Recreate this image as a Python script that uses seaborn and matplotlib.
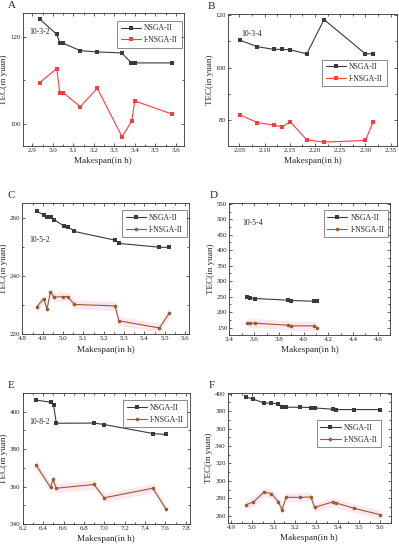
import numpy as np
import pandas as pd
import matplotlib
matplotlib.use("Agg")
import matplotlib.pyplot as plt
import seaborn as sns
from matplotlib.ticker import MultipleLocator, FormatStrFormatter

sns.set_style("ticks")
plt.rcParams['font.family'] = ['Liberation Serif', 'DejaVu Serif']

# ---------------- data ----------------
a_x_nsga = [2.937, 3.019, 3.035, 3.050, 3.134, 3.217, 3.336, 3.383, 3.400, 3.582]
a_y_nsga = [124.0, 120.5, 118.5, 118.5, 116.8, 116.5, 116.3, 114.0, 114.0, 114.0]
a_x_insga = [2.936, 3.019, 3.034, 3.050, 3.134, 3.217, 3.338, 3.385, 3.400, 3.582]
a_y_insga = [109.5, 112.7, 107.2, 107.2, 104.0, 108.2, 97.1, 100.7, 105.3, 102.3]

b_x_nsga = [2.052, 2.086, 2.118, 2.135, 2.151, 2.184, 2.218, 2.300, 2.316]
b_y_nsga = [110.3, 107.9, 106.9, 106.9, 106.7, 105.2, 118.2, 105.2, 105.2]
b_x_insga = [2.052, 2.086, 2.118, 2.135, 2.151, 2.184, 2.218, 2.300, 2.316]
b_y_insga = [81.9, 79.1, 78.1, 77.5, 79.4, 72.5, 71.7, 72.3, 79.5]

c_x_nsga = [4.870, 4.907, 4.923, 4.943, 4.956, 5.005, 5.026, 5.056, 5.256, 5.274, 5.472, 5.523]
c_y_nsga = [262.4, 261.0, 260.3, 260.3, 259.4, 257.3, 257.0, 255.4, 252.4, 251.3, 250.0, 249.9]
c_x_insga = [4.870, 4.905, 4.921, 4.938, 4.956, 5.002, 5.023, 5.056, 5.256, 5.274, 5.474, 5.523]
c_y_insga = [229.4, 232.3, 228.7, 234.6, 232.8, 233.0, 233.0, 230.3, 229.8, 224.7, 222.2, 227.4]

d_x_nsga = [3.544, 3.563, 3.610, 3.877, 3.896, 4.085, 4.104]
d_y_nsga = [250.2, 246.0, 243.8, 238.4, 237.3, 235.1, 235.1]
d_x_insga = [3.544, 3.563, 3.610, 3.877, 3.896, 4.085, 4.104]
d_y_insga = [166.0, 164.0, 164.0, 157.5, 155.4, 155.4, 150.0]

e_x_nsga = [6.330, 6.476, 6.503, 6.529, 6.900, 7.002, 7.480, 7.605]
e_y_nsga = [406.2, 405.0, 403.4, 393.8, 393.9, 393.1, 388.3, 387.8]
e_x_insga = [6.328, 6.473, 6.496, 6.529, 6.898, 7.000, 7.477, 7.606]
e_y_insga = [371.7, 359.5, 363.9, 359.1, 361.1, 354.0, 359.1, 347.9]

f_x_nsga = [4.969, 5.005, 5.056, 5.089, 5.122, 5.139, 5.158, 5.223, 5.275, 5.292, 5.377, 5.394, 5.478, 5.598]
f_y_nsga = [396.2, 393.5, 389.3, 388.9, 388.5, 385.1, 384.4, 384.4, 384.0, 383.6, 382.1, 381.7, 381.7, 381.7]
f_x_insga = [4.969, 5.005, 5.056, 5.089, 5.122, 5.139, 5.158, 5.223, 5.275, 5.292, 5.377, 5.394, 5.478, 5.598]
f_y_insga = [272.4, 275.8, 287.3, 285.3, 276.2, 267.0, 281.1, 281.1, 281.5, 269.6, 275.8, 274.6, 268.5, 261.3]

series_names = ["NSGA-II", "I-NSGA-II"]
panel_letters = ["A", "B", "C", "D", "E", "F"]
instances = ["10-3-2", "10-3-4", "10-5-2", "10-5-4", "10-8-2", ""]

# ---------------- layout ----------------
W, H = 399, 550
fig = plt.figure(figsize=(W / 100, H / 100), dpi=100)

panels = [
    dict(rect=(0.057, 0.7345, 0.404, 0.241), xs=(a_x_nsga, a_x_insga), ys=(a_y_nsga, a_y_insga),
         xlim=(2.853, 3.64), ylim=(95, 125.3), xmaj=0.1, xmin=0.05, ymaj=20, ymin=10, xfmt='%.1f',
         c2='#ff3b3b', m2='#ff3b3b', band=False, leg=(0.985, 0.945), ann=(0.04, 0.86)),
    dict(rect=(0.572, 0.7345, 0.422, 0.240), xs=(b_x_nsga, b_x_insga), ys=(b_y_nsga, b_y_insga),
         xlim=(2.028, 2.362), ylim=(70.2, 120.3), xmaj=0.05, xmin=0.025, ymaj=20, ymin=10, xfmt='%.2f',
         c2='#ff3b3b', m2='#ff3b3b', band=False, leg=(0.94, 0.655), ann=(0.08, 0.85)),
    dict(rect=(0.056, 0.392, 0.418, 0.239), xs=(c_x_nsga, c_x_insga), ys=(c_y_nsga, c_y_insga),
         xlim=(4.8, 5.62), ylim=(220, 265.2), xmaj=0.1, xmin=0.05, ymaj=20, ymin=10, xfmt='%.1f',
         c2='#9c5a2c', m2='#c0503a', band=True, leg=(0.985, 0.945), ann=(0.04, 0.72)),
    dict(rect=(0.575, 0.391, 0.403, 0.2395), xs=(d_x_nsga, d_x_insga), ys=(d_y_nsga, d_y_insga),
         xlim=(3.4, 4.7), ylim=(126, 552), xmaj=0.2, xmin=0.1, ymaj=50, ymin=25, xfmt='%.1f',
         c2='#9c5a2c', m2='#c0503a', band=True, leg=(0.985, 0.945), ann=(0.08, 0.85)),
    dict(rect=(0.057, 0.0473, 0.419, 0.2376), xs=(e_x_nsga, e_x_insga), ys=(e_y_nsga, e_y_insga),
         xlim=(6.2, 7.84), ylim=(340, 409.8), xmaj=0.2, xmin=0.1, ymaj=20, ymin=10, xfmt='%.1f',
         c2='#9c5a2c', m2='#b06a3a', band=True, leg=(0.985, 0.945), ann=(0.04, 0.78)),
    dict(rect=(0.571, 0.0496, 0.4085, 0.236), xs=(f_x_nsga, f_x_insga), ys=(f_y_nsga, f_y_insga),
         xlim=(4.885, 5.65), ylim=(252, 400.8), xmaj=0.1, xmin=0.05, ymaj=20, ymin=10, xfmt='%.1f',
         c2='#9c5a2c', m2='#b06a3a', band=True, leg=(0.94, 0.79), ann=None),
]

fs_tick = 5.0
fs_lab = 6.6

for i, p in enumerate(panels):
    ax = fig.add_axes(p['rect'])
    frames = []
    for name, xv, yv in zip(series_names, p['xs'], p['ys']):
        frames.append(pd.DataFrame({"Makespan": xv, "TEC": yv, "Algorithm": name}))
    df = pd.concat(frames, ignore_index=True)

    if p['band']:
        sub = df[df.Algorithm == "I-NSGA-II"]
        rng = p['ylim'][1] - p['ylim'][0]
        ax.fill_between(sub.Makespan, sub.TEC - 0.035 * rng, sub.TEC + 0.035 * rng,
                        color='#fbe1ee', alpha=0.8, lw=0, zorder=0)

    sns.lineplot(data=df, x="Makespan", y="TEC", hue="Algorithm", style="Algorithm",
                 palette={"NSGA-II": "#3a3a3a", "I-NSGA-II": p['c2']},
                 markers={"NSGA-II": "s", "I-NSGA-II": "o" if i >= 2 else "s"},
                 dashes=False, estimator=None, sort=False, ax=ax,
                 linewidth=0.8, markersize=2.6, markeredgewidth=0)

    ax.set_xlim(*p['xlim'])
    ax.set_ylim(*p['ylim'])
    ax.xaxis.set_major_locator(MultipleLocator(p['xmaj']))
    ax.xaxis.set_minor_locator(MultipleLocator(p['xmin']))
    ax.yaxis.set_major_locator(MultipleLocator(p['ymaj']))
    ax.yaxis.set_minor_locator(MultipleLocator(p['ymin']))
    ax.xaxis.set_major_formatter(FormatStrFormatter(p['xfmt']))
    ax.tick_params(which='both', direction='in', top=True, right=True,
                   labelsize=fs_tick, width=0.5, pad=1.5, colors='#222222')
    ax.tick_params(which='major', length=2.2)
    ax.tick_params(which='minor', length=1.2)
    for s in ax.spines.values():
        s.set_linewidth(0.6)
        s.set_color('#333333')
    ax.set_xlabel("Makespan(in h)", fontsize=fs_lab, labelpad=3)
    ax.set_ylabel("TEC(in yuan)", fontsize=fs_lab, labelpad=1.5)

    leg = ax.legend(loc='upper right', bbox_to_anchor=p['leg'], fontsize=5.6, frameon=True,
                    fancybox=False, edgecolor='#333333', handlelength=2.6, borderpad=0.45,
                    labelspacing=0.5, handletextpad=0.4, borderaxespad=0.0)
    leg.get_frame().set_linewidth(0.5)
    if p['ann'] is not None and instances[i]:
        ax.text(p['ann'][0], p['ann'][1], instances[i], transform=ax.transAxes,
                fontsize=5.6, ha='left', va='center')
    ax.text(-0.09 if i % 2 == 0 else -0.12, 1.025, panel_letters[i], transform=ax.transAxes,
            fontsize=8, ha='left', va='bottom')

fig.savefig("out.png", dpi=100)
